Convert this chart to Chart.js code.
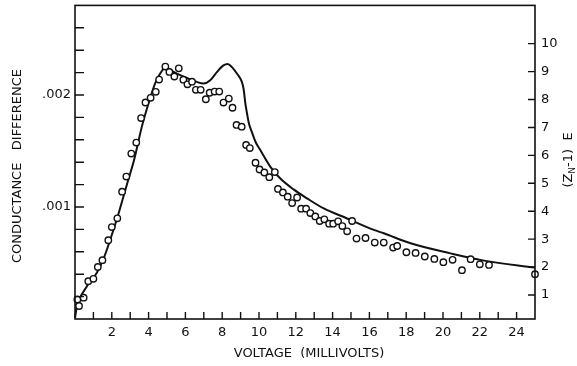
<!DOCTYPE html>
<html>
<head>
<meta charset="utf-8">
<script src="https://cdn.jsdelivr.net/npm/chart.js@4"></script>
<style>
  body { margin: 0; background: #fff; }
</style>
</head>
<body>
<canvas id="chart" width="577" height="366"></canvas>
<script>
// measured points (circles): voltage in mV, conductance difference
const voltage = [0.13, 0.22, 0.47, 0.72, 1.00, 1.24, 1.49, 1.81, 2.00, 2.30,
    2.56, 2.79, 3.06, 3.33, 3.59, 3.83, 4.11, 4.39, 4.57, 4.91,
    5.13, 5.40, 5.64, 5.89, 6.11, 6.36, 6.57, 6.83, 7.11, 7.32,
    7.59, 7.84, 8.07, 8.36, 8.56, 8.78, 9.06, 9.30, 9.50, 9.81,
    10.03, 10.29, 10.56, 10.86, 11.03, 11.30, 11.56, 11.80, 12.07, 12.29,
    12.56, 12.79, 13.06, 13.30, 13.55, 13.81, 14.03, 14.30, 14.53, 14.79,
    15.06, 15.30, 15.79, 16.29, 16.78, 17.29, 17.51, 18.01, 18.51, 19.01,
    19.53, 20.02, 20.52, 21.03, 21.50, 22.00, 22.50, 25.00];
const conductance = [0.000175, 0.000116, 0.000190, 0.000338, 0.000359, 0.000465, 0.000525, 0.000703, 0.000821, 0.000899,
    0.001137, 0.001272, 0.001477, 0.001575, 0.001794, 0.001933, 0.001975, 0.002028, 0.002138, 0.002254,
    0.002206, 0.002165, 0.002238, 0.002137, 0.002095, 0.002119, 0.002046, 0.002046, 0.001962, 0.002020,
    0.002031, 0.002031, 0.001932, 0.001968, 0.001886, 0.001733, 0.001717, 0.001554, 0.001526, 0.001395,
    0.001335, 0.001308, 0.001266, 0.001312, 0.001161, 0.001130, 0.001092, 0.001035, 0.001085, 0.000985,
    0.000985, 0.000946, 0.000916, 0.000875, 0.000890, 0.000851, 0.000851, 0.000872, 0.000830, 0.000783,
    0.000875, 0.000718, 0.000723, 0.000682, 0.000682, 0.000638, 0.000652, 0.000596, 0.000590, 0.000558,
    0.000536, 0.000507, 0.000528, 0.000436, 0.000534, 0.000488, 0.000483, 0.000400];

// theoretical curve (Z_N - 1) E, right axis
const curveVoltage = [0, 0.09, 0.64, 1.18, 1.54, 1.91, 2.36, 2.81, 3.21, 3.63,
    3.99, 4.35, 4.63, 4.95, 5.17, 5.54, 6.08, 6.62, 6.98, 7.35,
    7.71, 8.07, 8.29, 8.53, 8.80, 9.07, 9.17, 9.25, 9.35, 9.45,
    9.62, 9.82, 10.07, 10.62, 11.16, 11.88, 12.61, 13.52, 14.79, 16.24,
    16.78, 18.24, 20.41, 22.23, 25.0];
const curveValues = [0.18, 0.54, 1.30, 1.79, 2.28, 2.97, 3.90, 4.93, 5.83, 7.02,
    7.85, 8.57, 8.93, 9.16, 9.05, 8.93, 8.77, 8.63, 8.57, 8.69,
    8.98, 9.22, 9.27, 9.16, 8.93, 8.63, 8.35, 7.90, 7.50, 7.15,
    6.82, 6.47, 6.19, 5.59, 5.17, 4.78, 4.46, 4.10, 3.74, 3.33,
    3.21, 2.85, 2.49, 2.23, 1.98];

// tick labels
const xTickLabels = [2, 4, 6, 8, 10, 12, 14, 16, 18, 20, 22, 24];
const leftTickValues = [0.001, 0.002];
const leftTickLabels = ['.001', '.002'];
const rightTickLabels = [1, 2, 3, 4, 5, 6, 7, 8, 9, 10];

const ink = '#111';
const font = 'DejaVu Sans';

// frame, inward tick marks and axis titles
const framePlugin = {
    id: 'frame',
    afterDraw(chart) {
        const ctx = chart.ctx;
        const a = chart.chartArea;
        const sx = chart.scales.x, sy = chart.scales.y, sy2 = chart.scales.y2;
        ctx.save();
        ctx.strokeStyle = ink;
        ctx.lineWidth = 1.6;
        ctx.strokeRect(a.left, a.top, a.right - a.left, a.bottom - a.top);

        ctx.lineWidth = 1.4;
        ctx.beginPath();
        sx.ticks.forEach(t => {
            if (t.value <= 0 || t.value >= 25) return;
            const px = sx.getPixelForValue(t.value);
            ctx.moveTo(px, a.bottom);
            ctx.lineTo(px, a.bottom - 7);
        });
        sy.ticks.forEach(t => {
            if (t.value <= 0 || t.value >= 0.0027) return;
            const py = sy.getPixelForValue(t.value);
            ctx.moveTo(a.left, py);
            ctx.lineTo(a.left + 9, py);
        });
        sy2.ticks.forEach(t => {
            if (!rightTickLabels.includes(t.value)) return;
            const py = sy2.getPixelForValue(t.value);
            ctx.moveTo(a.right, py);
            ctx.lineTo(a.right - 7, py);
        });
        ctx.stroke();

        ctx.fillStyle = ink;
        ctx.textAlign = 'center';
        ctx.textBaseline = 'middle';
        ctx.font = '13px "' + font + '"';
        ctx.fillText('VOLTAGE  (MILLIVOLTS)', 309, 354);

        ctx.save();
        ctx.translate(18, 166);
        ctx.rotate(-Math.PI / 2);
        ctx.fillText('CONDUCTANCE   DIFFERENCE', 0, 0);
        ctx.restore();

        // right title with subscript N
        ctx.save();
        ctx.translate(569, 160);
        ctx.rotate(-Math.PI / 2);
        const big = '13px "' + font + '"', small = '9px "' + font + '"';
        const parts = [['(Z', big, 0], ['N', small, 4], ['-1)  E', big, 0]];
        let total = 0;
        parts.forEach(p => { ctx.font = p[1]; total += ctx.measureText(p[0]).width; });
        let cx = -total / 2;
        ctx.textAlign = 'left';
        parts.forEach(p => {
            ctx.font = p[1];
            ctx.fillText(p[0], cx, p[2]);
            cx += ctx.measureText(p[0]).width;
        });
        ctx.restore();
        ctx.restore();
    }
};

function noPadY(s, w) {
    s.width = w;
    s.paddingTop = 0;
    s.paddingBottom = 0;
}

new Chart(document.getElementById('chart'), {
    type: 'scatter',
    data: {
        datasets: [{
            label: 'measured',
            data: voltage.map((v, i) => ({ x: v, y: conductance[i] })),
            yAxisID: 'y',
            pointRadius: 3.2,
            pointBorderWidth: 1.4,
            pointBorderColor: ink,
            pointBackgroundColor: '#fff',
            clip: false
        }, {
            label: '(Z_N-1) E',
            data: curveVoltage.map((v, i) => ({ x: v, y: curveValues[i] })),
            yAxisID: 'y2',
            showLine: true,
            pointRadius: 0,
            borderColor: ink,
            borderWidth: 2,
            cubicInterpolationMode: 'monotone',
            clip: false
        }]
    },
    options: {
        responsive: false,
        animation: false,
        layout: { padding: { top: 5, left: 0, right: 0, bottom: 0 } },
        plugins: {
            legend: { display: false },
            tooltip: { enabled: false }
        },
        scales: {
            x: {
                type: 'linear',
                min: 0,
                max: 25,
                grid: { display: false, drawTicks: false },
                border: { display: false },
                afterFit(s) { s.height = 47; s.paddingLeft = 0; s.paddingRight = 0; },
                ticks: {
                    stepSize: 1,
                    autoSkip: false,
                    maxRotation: 0,
                    padding: 6,
                    color: ink,
                    font: { family: font, size: 13 },
                    callback: v => xTickLabels.includes(v) ? String(v) : ''
                }
            },
            y: {
                position: 'left',
                min: 0,
                max: 0.0028,
                grid: { display: false, drawTicks: false },
                border: { display: false },
                afterFit(s) { noPadY(s, 75); },
                ticks: {
                    stepSize: 0.0002,
                    autoSkip: false,
                    padding: 4,
                    color: ink,
                    font: { family: font, size: 13 },
                    callback: v => {
                        const i = leftTickValues.findIndex(t => Math.abs(t - v) < 1e-7);
                        return i >= 0 ? leftTickLabels[i] : '';
                    }
                }
            },
            y2: {
                position: 'right',
                min: 0.14,
                max: 11.37,
                grid: { display: false, drawTicks: false },
                border: { display: false },
                afterFit(s) { noPadY(s, 42); },
                ticks: {
                    stepSize: 1,
                    autoSkip: false,
                    padding: 6,
                    color: ink,
                    font: { family: font, size: 13 },
                    callback: v => rightTickLabels.includes(v) ? String(v) : ''
                }
            }
        }
    },
    plugins: [framePlugin]
});
</script>
</body>
</html>
